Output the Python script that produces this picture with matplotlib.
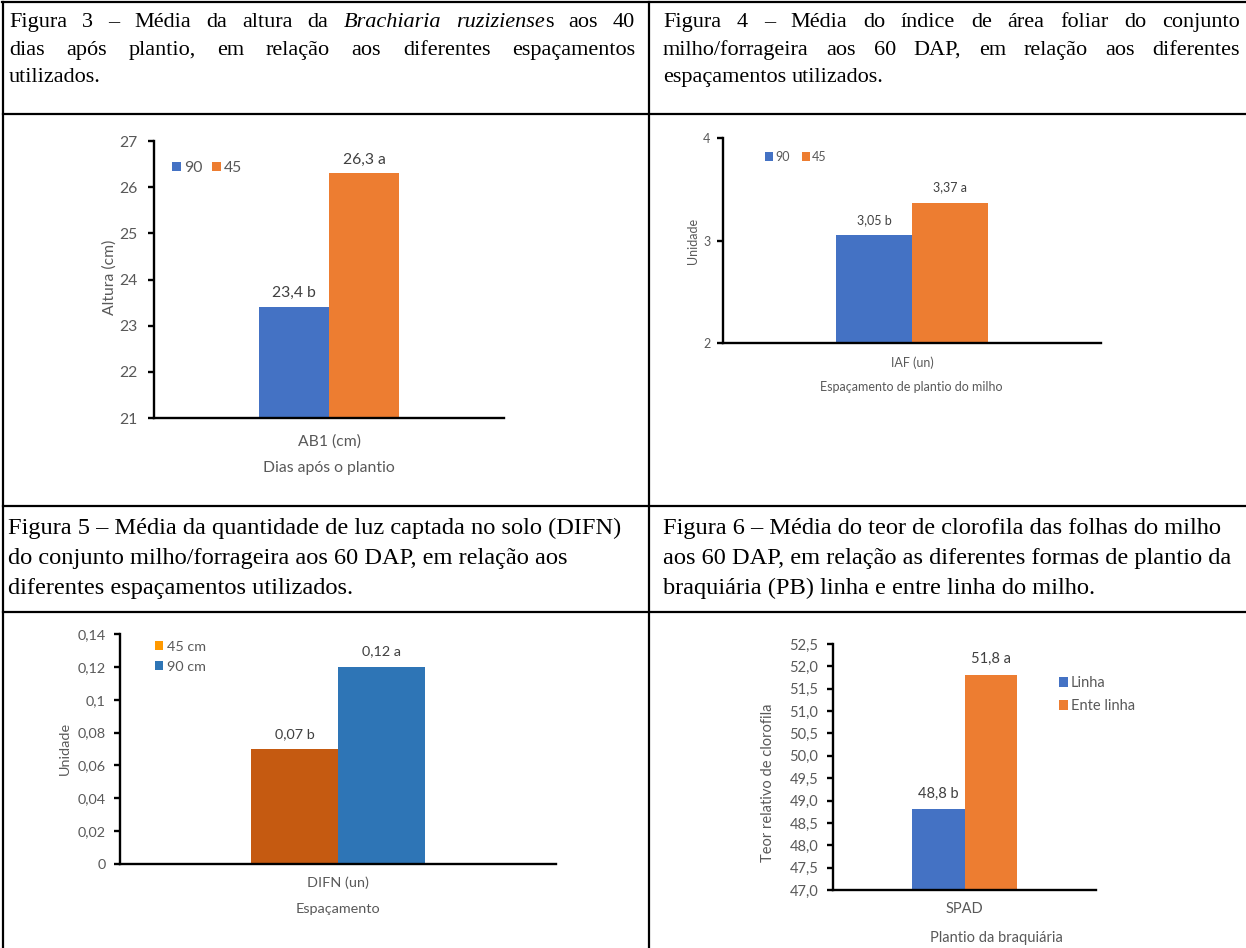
import matplotlib
matplotlib.use("Agg")
import matplotlib.pyplot as plt
from matplotlib.lines import Line2D
from matplotlib.patches import Patch

W, H = 1246, 948

# Figura 3 - altura da braquiária
alt_cat = ["AB1 (cm)"]
alt_series = ["90", "45"]
alt_vals = [23.4, 26.3]
alt_letters = ["b", "a"]
alt_ticks = [21, 22, 23, 24, 25, 26, 27]

# Figura 4 - índice de área foliar
iaf_cat = ["IAF (un)"]
iaf_series = ["90", "45"]
iaf_vals = [3.05, 3.37]
iaf_letters = ["b", "a"]
iaf_ticks = [2, 3, 4]

# Figura 5 - DIFN
difn_cat = ["DIFN (un)"]
difn_series = ["45 cm", "90 cm"]
difn_vals = [0.07, 0.12]
difn_letters = ["b", "a"]
difn_ticks = [0, 0.02, 0.04, 0.06, 0.08, 0.1, 0.12, 0.14]

# Figura 6 - SPAD
spad_cat = ["SPAD"]
spad_series = ["Linha", "Ente linha"]
spad_vals = [48.8, 51.8]
spad_letters = ["b", "a"]
spad_ticks = [47.0, 47.5, 48.0, 48.5, 49.0, 49.5, 50.0, 50.5, 51.0, 51.5, 52.0, 52.5]

cap3 = ["Figura 3 – Média da altura da *Brachiaria* *ruziziense*s aos 40",
        "dias após plantio, em relação aos diferentes espaçamentos",
        "utilizados."]
cap4 = ["Figura 4 – Média do índice de área foliar do conjunto",
        "milho/forrageira aos 60 DAP, em relação aos diferentes",
        "espaçamentos utilizados."]
cap5 = ["Figura 5 – Média da quantidade de luz captada no solo (DIFN)",
        "do conjunto milho/forrageira aos 60 DAP, em relação aos",
        "diferentes espaçamentos utilizados."]
cap6 = ["Figura 6 – Média do teor de clorofila das folhas do milho",
        "aos 60 DAP, em relação as diferentes formas de plantio da",
        "braquiária (PB) linha e entre linha do milho."]

BLUE = "#4472C4"
ORANGE = "#ED7D31"
GRAY = "#595959"
DARK = "#404040"

plt.rcParams["font.family"] = ["Lato", "DejaVu Sans"]

fig = plt.figure(figsize=(W / 100, H / 100), dpi=100)
renderer = fig.canvas.get_renderer()


def fx(x):
    return x / W


def fy(y):
    return 1 - y / H


def rule(x0, y0, x1, y1):
    fig.add_artist(Line2D([fx(x0), fx(x1)], [fy(y0), fy(y1)], color="black", lw=1.6))


# table grid
rule(2, 2, W, 2)
rule(3, 114, W, 114)
rule(3, 506, W, 506)
rule(3, 612, W, 612)
rule(3, 2, 3, H)
rule(649, 2, 649, H)


def justified(lines, x0, x1, baselines, size):
    # words marked with *...* are set in italic
    for k, (line, yb) in enumerate(zip(lines, baselines)):
        words = []
        for word in line.split():
            runs = []
            for i, seg in enumerate(word.split("*")):
                if not seg:
                    continue
                t = fig.text(0, fy(yb), seg, fontsize=size, family="Liberation Serif",
                             style="italic" if i % 2 else "normal", va="baseline")
                runs.append((t, t.get_window_extent(renderer).width))
            words.append(runs)
        widths = [sum(w for _, w in runs) for runs in words]
        if k < len(lines) - 1 and len(words) > 1:
            gap = (x1 - x0 - sum(widths)) / (len(words) - 1)
        else:
            gap = size * 0.25 * 100 / 72
        x = x0
        for runs, wd in zip(words, widths):
            xx = x
            for t, w in runs:
                t.set_x(fx(xx))
                xx += w
            x += wd + gap


def plain(lines, x0, baselines, size):
    for line, yb in zip(lines, baselines):
        fig.text(fx(x0), fy(yb), line, fontsize=size, family="Liberation Serif", va="baseline")


justified(cap3, 9, 635, [27, 55, 82], 16)
justified(cap4, 663, 1240, [27, 55, 82], 16)
plain(cap5, 8, [534, 564, 594], 17.6)
plain(cap6, 663, [534, 564, 594], 17.6)


def chart(box, ylim, ticks, tick_labels, fs, tick_pad):
    x0, y0, x1, y1 = box
    ax = fig.add_axes([fx(x0), fy(y1), (x1 - x0) / W, (y1 - y0) / H])
    ax.set_xlim(-0.5, 0.5)
    ax.set_ylim(*ylim)
    for s in ("top", "right"):
        ax.spines[s].set_visible(False)
    for s in ("left", "bottom"):
        ax.spines[s].set_linewidth(1.7)
    ax.set_yticks(ticks, tick_labels)
    ax.tick_params(axis="y", direction="out", length=4, width=1.7, pad=tick_pad,
                   labelsize=fs, labelcolor=GRAY)
    ax.tick_params(axis="x", length=0, labelsize=fs, labelcolor=GRAY)
    return ax


def finish(ax, cat, cat_y, xlabel, xlab_xy, ylabel, ylab_xy, fs):
    axis_y = H * (1 - ax.get_position().y0)
    ax.set_xticks([0], cat, va="center")
    ax.tick_params(axis="x", pad=(cat_y - axis_y) * 0.72)
    ax.set_xlabel(xlabel, fontsize=fs, color=GRAY, va="center")
    ax.xaxis.set_label_coords(fx(xlab_xy[0]), fy(xlab_xy[1]), transform=fig.transFigure)
    ax.set_ylabel(ylabel, fontsize=fs, color=GRAY, va="center")
    ax.yaxis.set_label_coords(fx(ylab_xy[0]), fy(ylab_xy[1]), transform=fig.transFigure)


def value_labels(ax, bars, vals, letters, fmt, fs, off):
    for b, v, l in zip(bars, vals, letters):
        ax.annotate(format(v, fmt).replace(".", ",") + " " + l,
                    (b.get_x() + b.get_width() / 2, v), xytext=(0, off),
                    textcoords="offset points", ha="center", va="center",
                    fontsize=fs, color=DARK)


def legend(ax, labels, colors, fs, anchor, ncol, **kw):
    handles = [Patch(facecolor=c, edgecolor="none") for c in colors]
    ax.legend(handles, labels, ncol=ncol, fontsize=fs, labelcolor=GRAY, frameon=False,
              borderpad=0, borderaxespad=0, loc="center left",
              bbox_to_anchor=(fx(anchor[0]), fy(anchor[1])), bbox_transform=fig.transFigure,
              **kw)


pos = [-0.1, 0.1]

# Figura 3
fs = 11.3
ax = chart((154, 141, 504, 418), (21, 27), alt_ticks, [f"{t:g}" for t in alt_ticks], fs, 8)
bars = ax.bar(pos, alt_vals, width=0.2, color=[BLUE, ORANGE])
value_labels(ax, bars, alt_vals, alt_letters, ".1f", fs, 10)
finish(ax, alt_cat, 442, "Dias após o plantio", (329, 468), "Altura (cm)", (110, 277), fs)
legend(ax, alt_series, [BLUE, ORANGE], fs, (172, 168), 2, handlelength=0.58,
       handleheight=0.58, handletextpad=0.2, columnspacing=0.6)

# Figura 4
fs = 9
ax = chart((723, 138, 1101, 343), (2, 4), iaf_ticks, [f"{t:g}" for t in iaf_ticks], fs, 5)
bars = ax.bar(pos, iaf_vals, width=0.2, color=[BLUE, ORANGE])
value_labels(ax, bars, iaf_vals, iaf_letters, ".2f", fs, 11)
finish(ax, iaf_cat, 363, "Espaçamento de plantio do milho", (911, 387), "Unidade", (693, 241), fs)
legend(ax, iaf_series, [BLUE, ORANGE], fs, (765, 157), 2, handlelength=0.64,
       handleheight=0.64, handletextpad=0.16, columnspacing=1.0)

# Figura 5
fs = 10.4
ax = chart((120, 634, 556, 864), (0, 0.14), difn_ticks,
           [f"{t:g}".replace(".", ",") for t in difn_ticks], fs, 6.5)
bars = ax.bar(pos, difn_vals, width=0.2, color=["#C55A11", "#2E75B6"])
value_labels(ax, bars, difn_vals, difn_letters, ".2f", fs, 11)
finish(ax, difn_cat, 883, "Espaçamento", (338, 909), "Unidade", (65, 748), fs)
legend(ax, difn_series, ["#FF9900", "#2E75B6"], fs, (155, 657), 1, handlelength=0.58,
       handleheight=0.58, handletextpad=0.25, labelspacing=0.55)

# Figura 6
fs = 10.5
ax = chart((833, 644, 1096, 890), (47, 52.5), spad_ticks,
           [f"{t:.1f}".replace(".", ",") for t in spad_ticks], fs, 6.5)
bars = ax.bar(pos, spad_vals, width=0.2, color=[BLUE, ORANGE])
value_labels(ax, bars, spad_vals, spad_letters, ".1f", fs, 11.5)
finish(ax, spad_cat, 909, "Plantio da braquiária", (996, 938),
       "Teor relativo de clorofila", (768, 783), fs)
legend(ax, spad_series, [BLUE, ORANGE], fs, (1059, 694.5), 1, handlelength=0.62,
       handleheight=0.62, handletextpad=0.2, labelspacing=0.62)

fig.savefig("out.png", dpi=100)
